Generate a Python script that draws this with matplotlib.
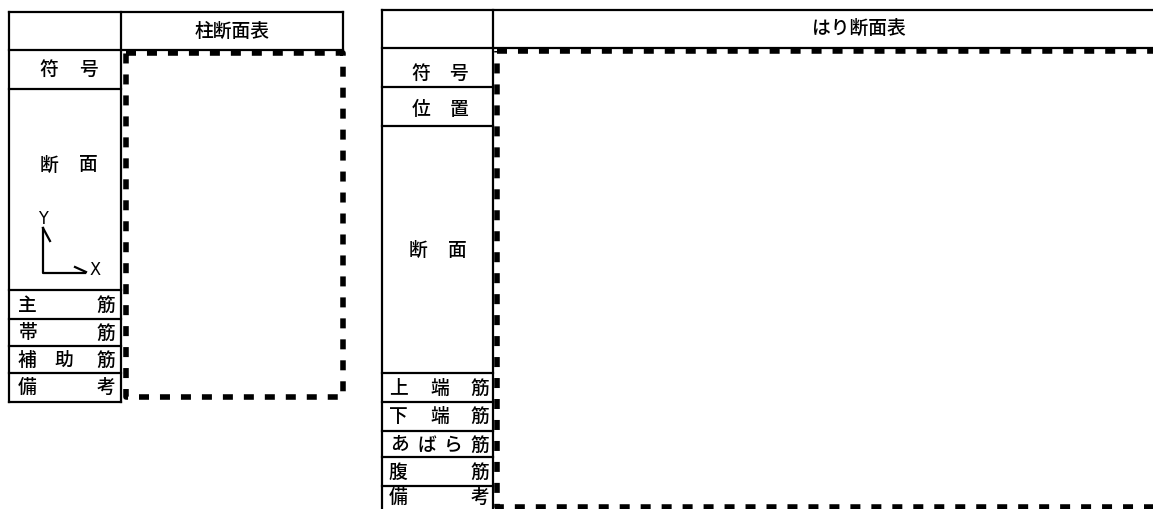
import matplotlib.pyplot as plt

plt.rcParams['font.family'] = ['Noto Sans CJK JP', 'DejaVu Sans']
plt.rcParams['lines.scale_dashes'] = False

## column table (left)
col_title = "柱断面表"
col_rows = [12, 50, 89, 290, 319, 346, 373, 402]   ## horizontal rule positions
col_x = [9, 121, 343]                              ## left, divider, right
col_labels = [
    [("符", 49), ("号", 88)],
    [("断", 49), ("面", 88)],
    [("主", 27), ("筋", 106)],
    [("帯", 27), ("筋", 106)],
    [("補", 27), ("助", 64), ("筋", 106)],
    [("備", 27), ("考", 106)],
]
col_label_y = [69, 165, 305, 333, 360, 387]
col_box = [126, 53, 343, 397]   ## dashed area x0, y0, x1, y1

## beam table (right)
beam_title = "はり断面表"
beam_rows = [9.5, 48, 87, 126, 373, 402, 431, 457, 486, 520]
beam_x = [382, 493, 1225]
beam_labels = [
    [("符", 421), ("号", 459)],
    [("位", 421), ("置", 459)],
    [("断", 418), ("面", 457)],
    [("上", 398), ("端", 440), ("筋", 480)],
    [("下", 398), ("端", 440), ("筋", 480)],
    [("あ", 400), ("ば", 427), ("ら", 453), ("筋", 480)],
    [("腹", 398), ("筋", 480)],
    [("備", 398), ("考", 480)],
]
beam_label_y = [73, 109, 250, 388, 416, 445, 472, 497]
beam_box = [497, 50.5, 1225, 507]

fig = plt.figure(figsize=(11.53, 5.09), dpi=100)
ax = fig.add_axes([0, 0, 1, 1])
ax.set_xlim(0, 1153)
ax.set_ylim(509, 0)
ax.axis('off')

lw = 1.6
fs = 13.5
fw = 'medium'


def draw_table(xs, rows, title, labels, label_y, box):
    x0, xd, x1 = xs
    ## header row spans the full width
    ax.plot([x0, x1], [rows[0], rows[0]], color='black', lw=lw)
    ax.plot([x0, x1], [rows[1], rows[1]], color='black', lw=lw)
    ax.plot([x1, x1], [rows[0], rows[1]], color='black', lw=lw)
    ## left label column
    for r in rows[2:]:
        ax.plot([x0, xd], [r, r], color='black', lw=lw)
    ax.plot([x0, x0], [rows[0], rows[-1]], color='black', lw=lw)
    ax.plot([xd, xd], [rows[0], rows[-1]], color='black', lw=lw)
    ax.text((xd + x1) / 2, (rows[0] + rows[1]) / 2, title, fontsize=fs,
            ha='center', va='center', fontweight=fw)
    for row, y in zip(labels, label_y):
        for ch, x in row:
            ax.text(x, y, ch, fontsize=fs, ha='center', va='center',
                    fontweight=fw)
    bx0, by0, bx1, by1 = box
    ax.plot([bx0, bx1, bx1, bx0, bx0], [by0, by0, by1, by1, by0],
            color='black', lw=4, linestyle=(0, (7.2, 7.9)),
            solid_capstyle='butt', dash_capstyle='butt')


draw_table(col_x, col_rows, col_title, col_labels, col_label_y, col_box)
draw_table(beam_x, beam_rows, beam_title, beam_labels, beam_label_y, beam_box)

## axis symbol in the column section cell
ax.plot([43, 43, 85], [228, 273, 273], color='black', lw=lw)
ax.plot([43, 50], [228, 241], color='black', lw=lw)
ax.plot([75, 86], [267, 272], color='black', lw=lw)
ax.text(43, 219, "Y", fontsize=13, ha='center', va='center',
        family='DejaVu Sans', stretch='condensed')
ax.text(95, 270, "X", fontsize=13, ha='center', va='center',
        family='DejaVu Sans', stretch='condensed')

fig.savefig('out.png', dpi=100)
